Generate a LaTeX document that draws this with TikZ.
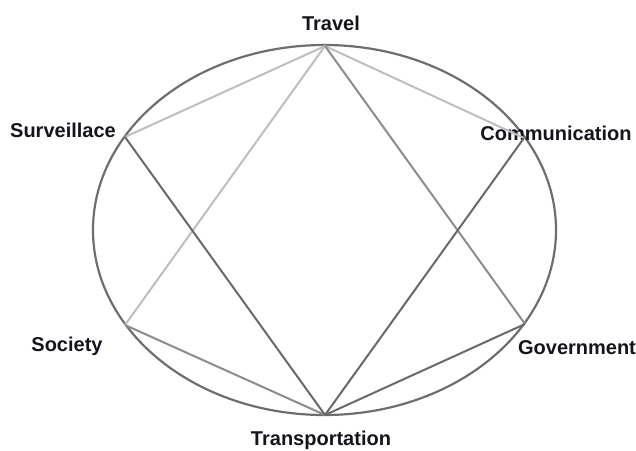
\documentclass[tikz,border=0pt]{standalone}
\usepackage{fontspec}
\setmainfont{Liberation Sans}
\usepackage{tikz}
\usetikzlibrary{calc}
\definecolor{RingLine}{RGB}{110,110,110}
\definecolor{DarkLine}{RGB}{105,105,105}
\definecolor{MidLine} {RGB}{140,140,140}
\definecolor{PaleLine}{RGB}{190,190,190}
\definecolor{LblText} {RGB}{20,20,28}
\tikzset{
  ring/.style={draw=RingLine, line width=1.1pt},
  ln_dark/.style={draw=DarkLine, line width=1pt},
  ln_mid/.style={draw=MidLine, line width=1pt},
  ln_pale/.style={draw=PaleLine, line width=1pt},
  lbl/.style={font=\fontsize{10}{12}\selectfont\bfseries, text=LblText, inner sep=1pt},
}
\begin{document}
\begin{tikzpicture}[x=0.5pt,y=-0.5pt]

%% frame
\useasboundingbox (0,0) rectangle (636,450);

%% ring
\draw[ring] (324.5,230) ellipse [x radius=231.5, y radius=185];

%% points on the ring
\coordinate (Tr) at (325,46);
\coordinate (Su) at (125,137);
\coordinate (Co) at (524,138);
\coordinate (So) at (125,325);
\coordinate (Go) at (525,324);
\coordinate (Tp) at (325,415);

%% labels
\node[lbl] at (331,23)  (TrL){Travel};
\node[lbl] at (63,130)  (SuL){Surveillace};
\node[lbl] at (556,133) (CoL){Communication};
\node[lbl] at (67,346)  (SoL){Society};
\node[lbl] at (577,348) (GoL){Government};
\node[lbl] at (321,440) (TpL){Transportation};

%% links
\draw[ln_pale] (Tr)--(Su);
\draw[ln_pale] (Tr)--(Co);
\draw[ln_pale] (Tr)--(So);
\draw[ln_mid]  (Tr)--(Go);
\draw[ln_mid]  (So)--(Tp);
\draw[ln_dark] (Su)--(Tp);
\draw[ln_dark] (Co)--(Tp);
\draw[ln_dark] (Go)--(Tp);

\end{tikzpicture}
\end{document}
